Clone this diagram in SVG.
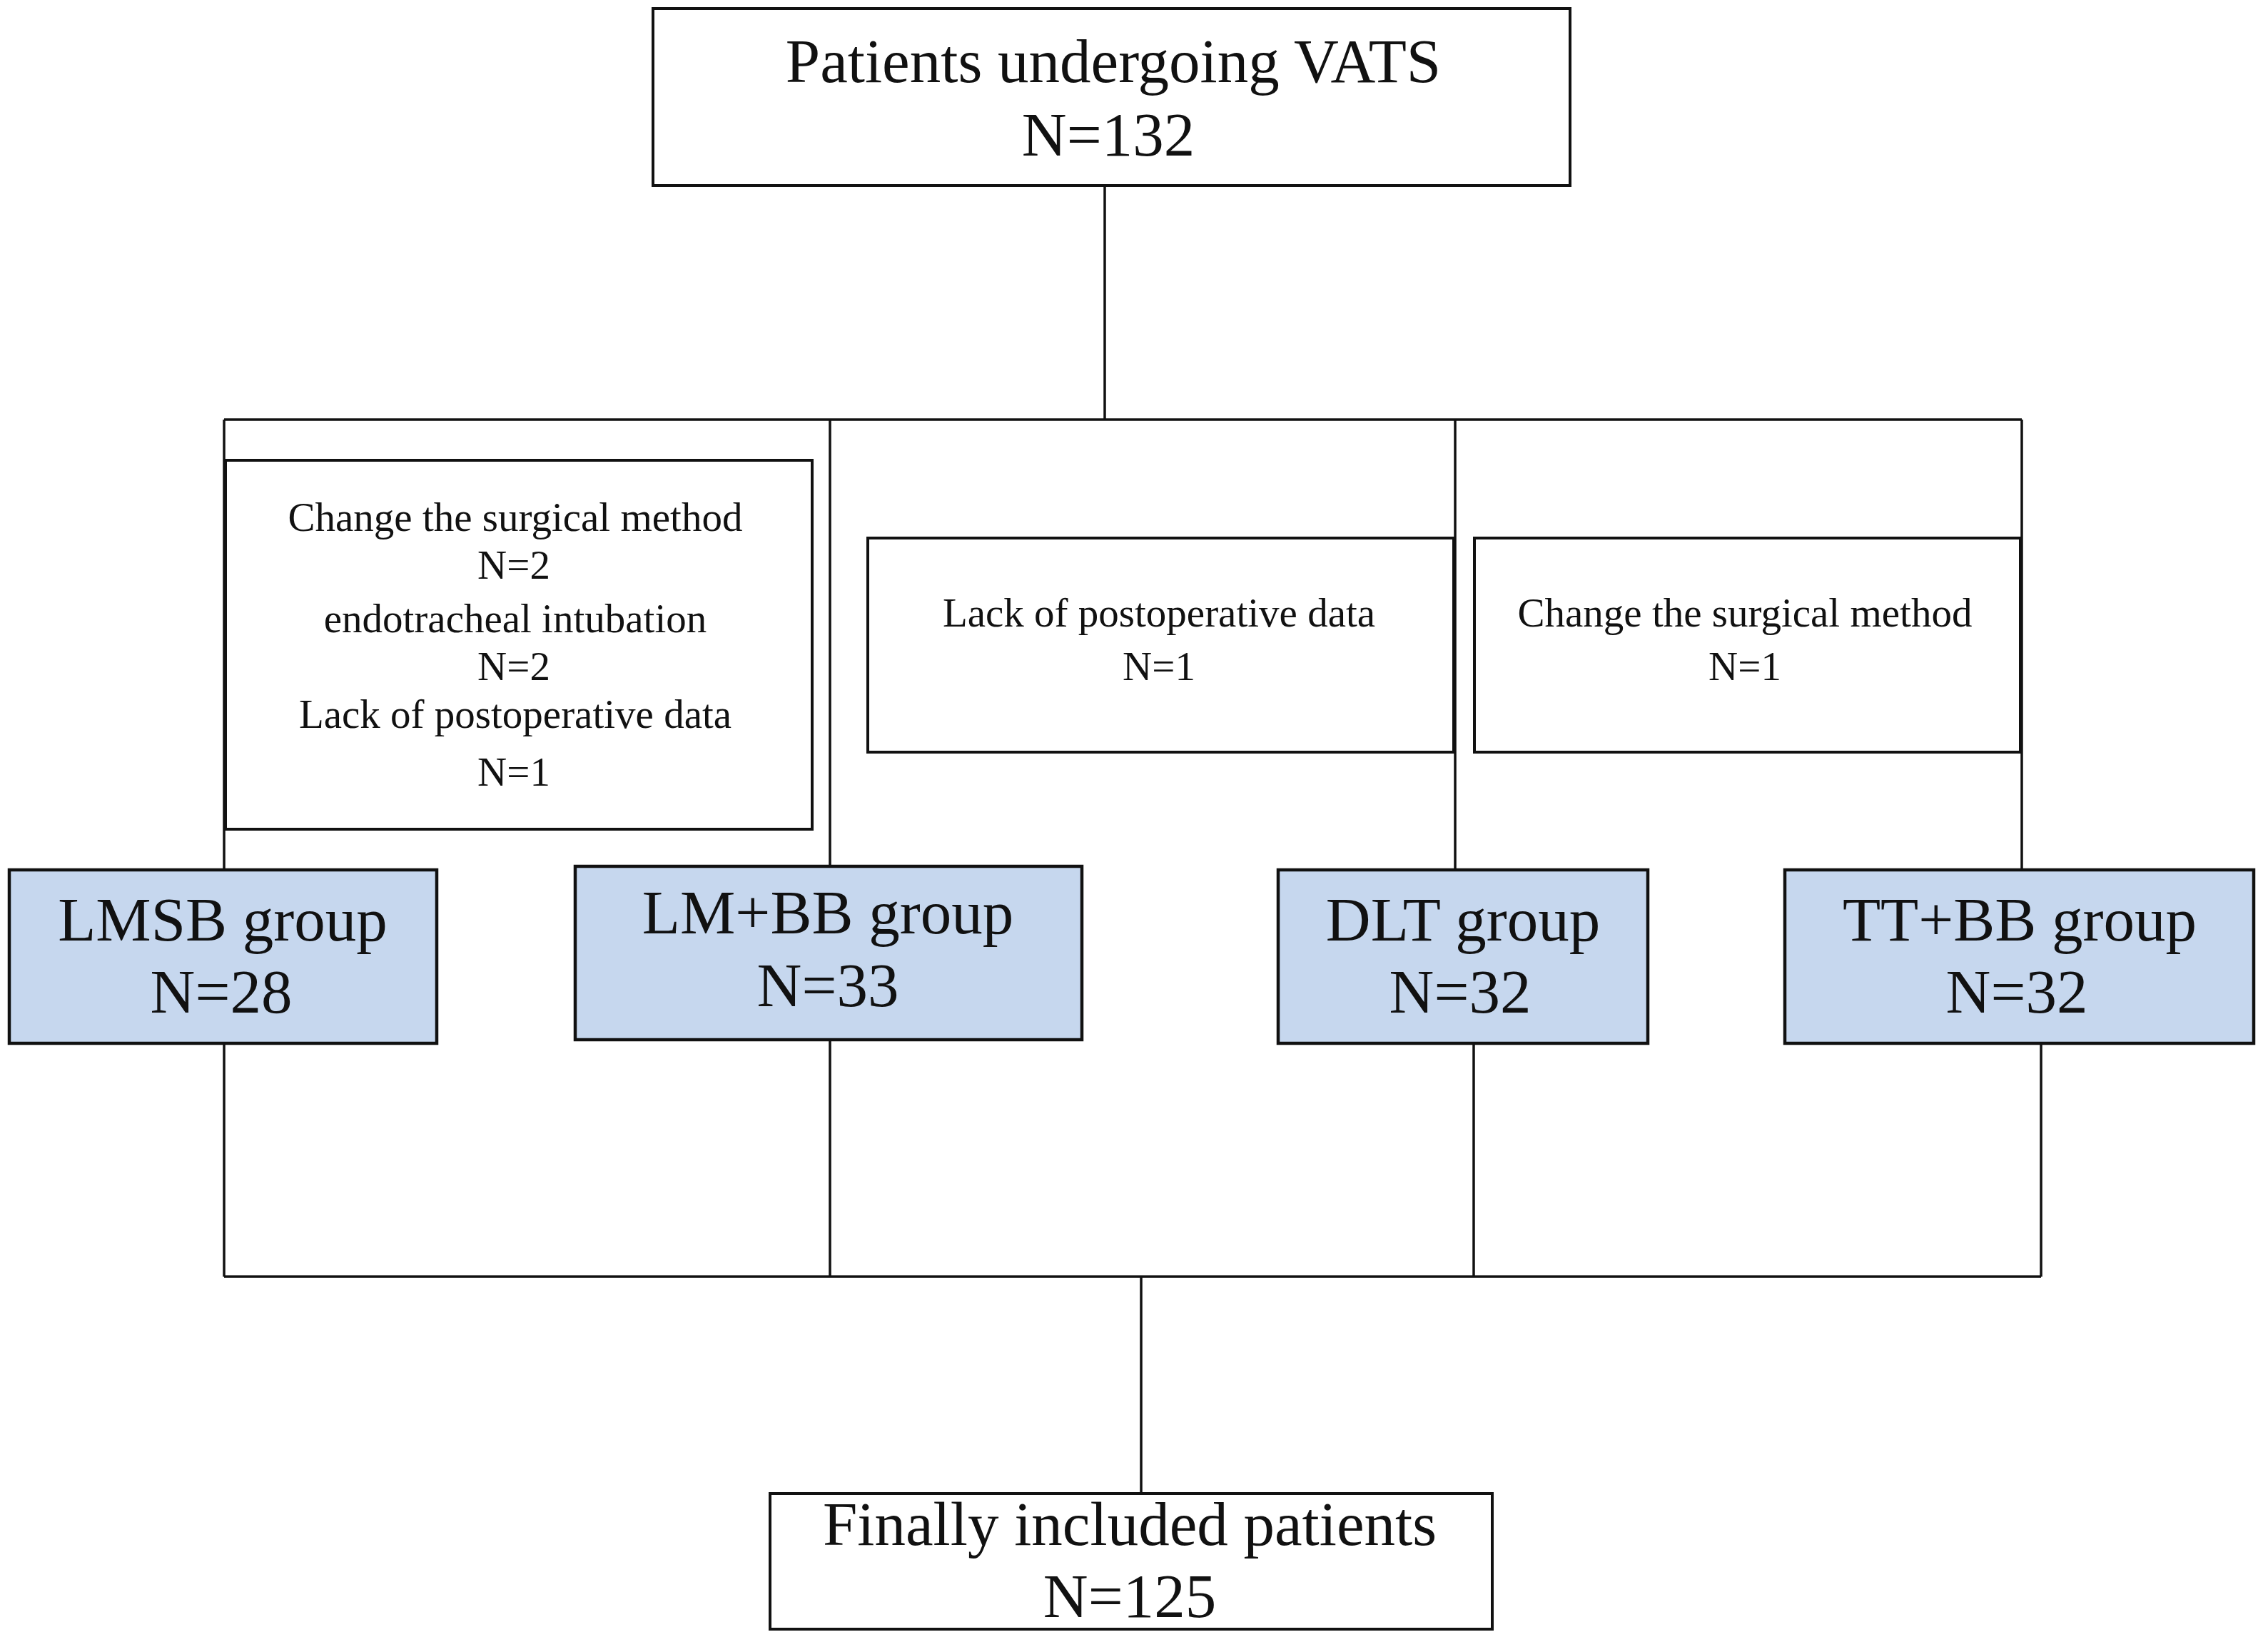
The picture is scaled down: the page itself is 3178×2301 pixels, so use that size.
<svg xmlns="http://www.w3.org/2000/svg" width="3178" height="2301" viewBox="0 0 3178 2301">
<style>
.box{fill:#ffffff;stroke:#111111;stroke-width:4}
.grp{fill:#c6d7ee;stroke:#111111;stroke-width:4.5}
.ln{stroke:#111111;stroke-width:3.5;fill:none}
.big{font-family:"Liberation Serif","Times New Roman",serif;font-size:87px;fill:#111111;text-anchor:middle}
.sm{font-family:"Liberation Serif","Times New Roman",serif;font-size:57px;fill:#111111;text-anchor:middle}
</style>
<rect width="3178" height="2301" fill="#ffffff"/>
<g id="connectors">
<line class="ln" x1="1548" y1="260" x2="1548" y2="588"/>
<line class="ln" x1="314" y1="588" x2="2833" y2="588"/>
<line class="ln" x1="314" y1="588" x2="314" y2="1220"/>
<line class="ln" x1="1163" y1="588" x2="1163" y2="1214"/>
<line class="ln" x1="2039" y1="588" x2="2039" y2="1220"/>
<line class="ln" x1="2833" y1="588" x2="2833" y2="1220"/>
<line class="ln" x1="314" y1="1462" x2="314" y2="1789"/>
<line class="ln" x1="1163" y1="1457" x2="1163" y2="1789"/>
<line class="ln" x1="2065" y1="1462" x2="2065" y2="1789"/>
<line class="ln" x1="2860" y1="1462" x2="2860" y2="1789"/>
<line class="ln" x1="314" y1="1789" x2="2860" y2="1789"/>
<line class="ln" x1="1599" y1="1789" x2="1599" y2="2093"/>
</g>
<g id="start">
<rect class="box" x="915" y="12" width="1285" height="248"/>
<text class="big" x="1560" y="115">Patients undergoing VATS</text>
<text class="big" x="1553" y="218">N=132</text>
</g>
<g id="excl1">
<rect class="box" x="316" y="645" width="822" height="517"/>
<text class="sm" x="722" y="744">Change the surgical method</text>
<text class="sm" x="720" y="811">N=2</text>
<text class="sm" x="722" y="886">endotracheal intubation</text>
<text class="sm" x="720" y="953">N=2</text>
<text class="sm" x="722" y="1020">Lack of postoperative data</text>
<text class="sm" x="720" y="1101">N=1</text>
</g>
<g id="excl2">
<rect class="box" x="1216" y="754" width="821" height="300"/>
<text class="sm" x="1624" y="878">Lack of postoperative data</text>
<text class="sm" x="1624" y="953">N=1</text>
</g>
<g id="excl3">
<rect class="box" x="2066" y="754" width="765" height="300"/>
<text class="sm" x="2445" y="878">Change the surgical method</text>
<text class="sm" x="2445" y="953">N=1</text>
</g>
<g id="lmsb">
<rect class="grp" x="13" y="1219" width="599" height="243"/>
<text class="big" x="312" y="1318">LMSB group</text>
<text class="big" x="310" y="1419">N=28</text>
</g>
<g id="lmbb">
<rect class="grp" x="806" y="1214" width="710" height="243"/>
<text class="big" x="1160" y="1308">LM+BB group</text>
<text class="big" x="1160" y="1410">N=33</text>
</g>
<g id="dlt">
<rect class="grp" x="1791" y="1219" width="518" height="243"/>
<text class="big" x="2050" y="1318">DLT group</text>
<text class="big" x="2046" y="1419">N=32</text>
</g>
<g id="ttbb">
<rect class="grp" x="2501" y="1219" width="657" height="243"/>
<text class="big" x="2830" y="1318">TT+BB group</text>
<text class="big" x="2826" y="1419">N=32</text>
</g>
<g id="final">
<rect class="box" x="1079" y="2093" width="1012" height="190"/>
<text class="big" x="1583" y="2165">Finally included patients</text>
<text class="big" x="1583" y="2266">N=125</text>
</g>
</svg>
